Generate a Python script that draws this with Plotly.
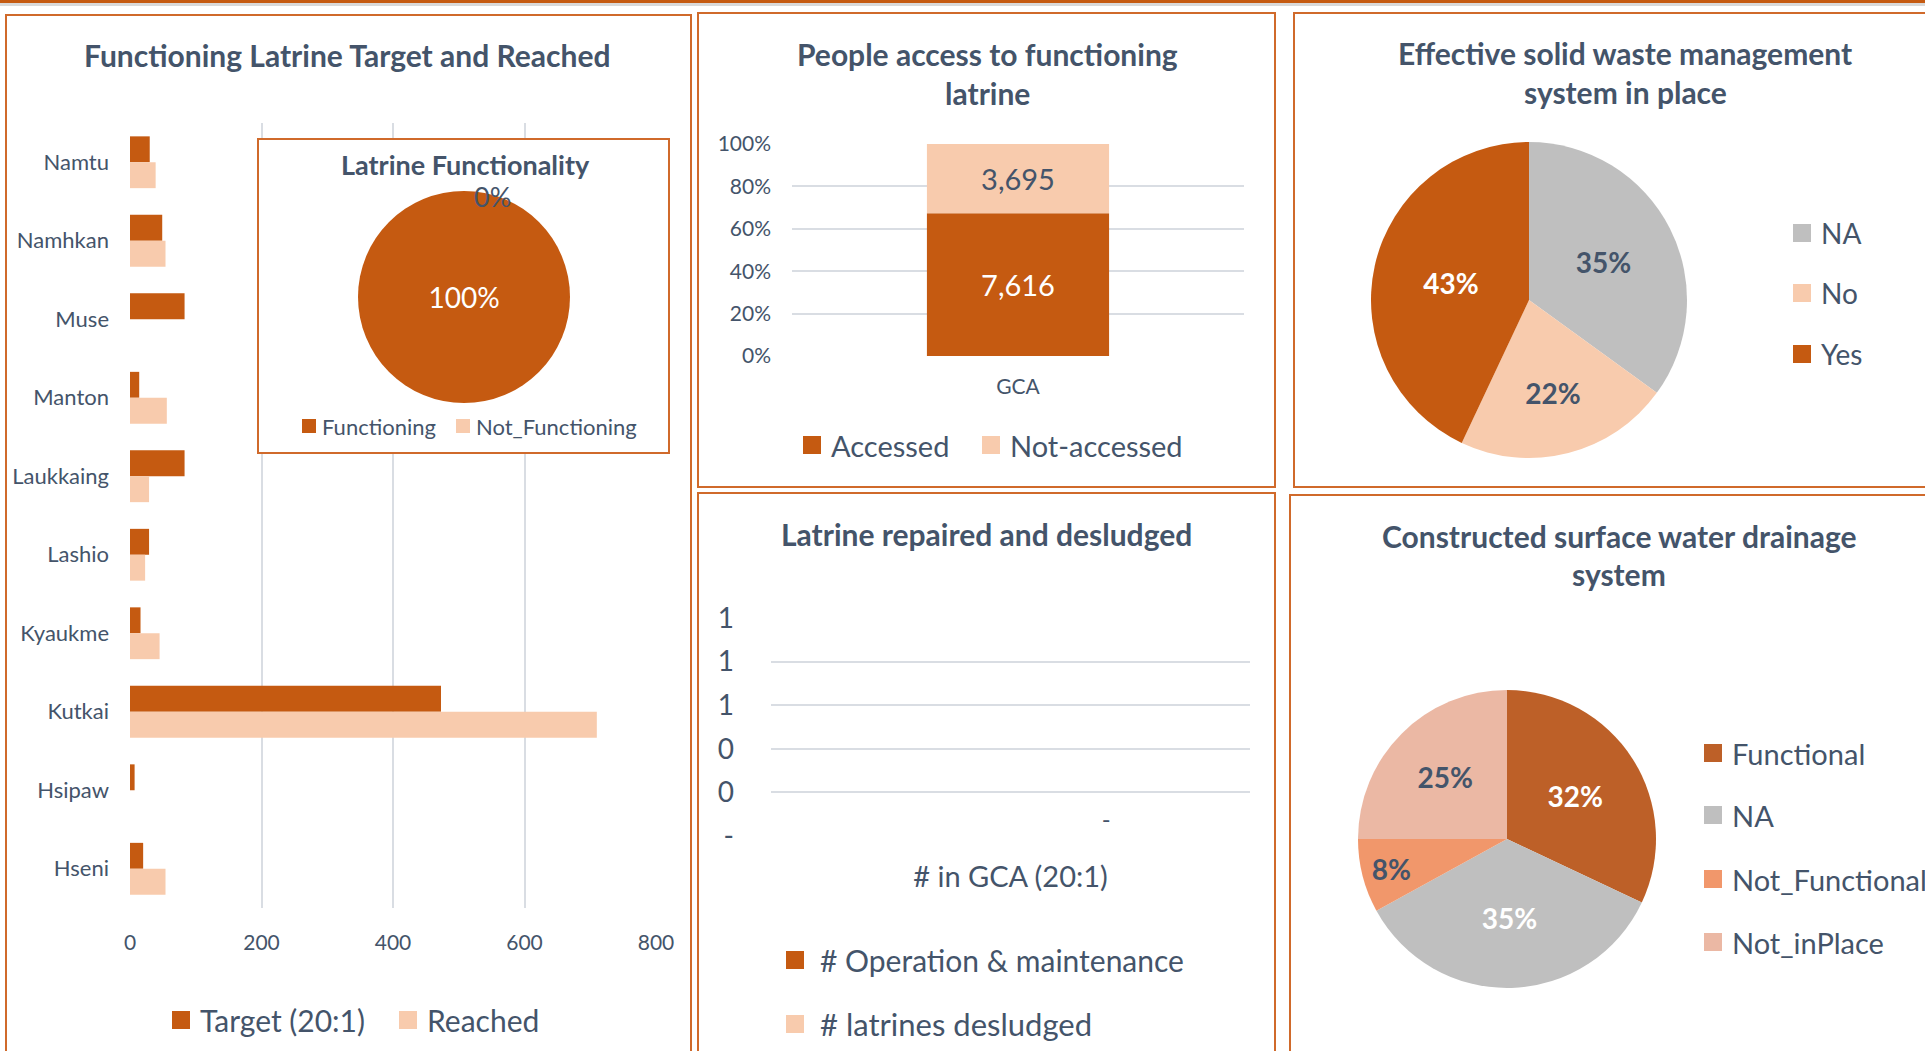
import plotly.graph_objects as go

W, H = 1925, 1051
TEXT = '#44546A'
ORANGE = '#C55A11'
PEACH = '#F8CBAD'
GREY = '#BFBFBF'
BORDER = '#D06A2B'
GRID = '#D9DDE3'
FONT = 'Lato'

# ---------------- data ----------------
districts = ["Namtu", "Namhkan", "Muse", "Manton", "Laukkaing", "Lashio",
             "Kyaukme", "Kutkai", "Hsipaw", "Hseni"]
target = [30, 49, 83, 14, 83, 29, 16, 473, 7, 20]
reached = [39, 54, 0, 56, 29, 23, 45, 710, 0, 54]
bar_series = ["Target (20:1)", "Reached"]
bar_xticks = [0, 200, 400, 600, 800]

func_labels = ["Functioning", "Not_Functioning"]
func_values = [100, 0]

access_cat = ["GCA"]
access_labels = ["Accessed", "Not-accessed"]
access_values = [7616, 3695]
access_ticks = [0, 20, 40, 60, 80, 100]

repair_cat = ["# in GCA (20:1)"]
repair_labels = ["# Operation & maintenance", "# latrines desludged"]
repair_values = [0, 0]
repair_tickvals = [0, 0.2, 0.4, 0.6, 0.8, 1.0]
repair_ticktext = ["-", "0", "0", "1", "1", "1"]

waste_labels = ["NA", "No", "Yes"]
waste_values = [35, 22, 43]

drain_labels = ["Functional", "NA", "Not_Functional", "Not_inPlace"]
drain_values = [32, 35, 8, 25]

titles = {
    "bars": ["Functioning Latrine Target and Reached"],
    "inset": ["Latrine Functionality"],
    "access": ["People access to functioning", "latrine"],
    "repair": ["Latrine repaired and desludged"],
    "waste": ["Effective solid waste management", "system in place"],
    "drain": ["Constructed surface water drainage", "system"],
}


def X(p):
    return p / W


def Y(p):
    return 1 - p / H


fig = go.Figure()
shapes = []
annots = []

# ---------------- panel 1 : horizontal bars ----------------
P1_L, P1_R, P1_T, P1_B = 130, 656, 123, 908
fig.add_trace(go.Bar(y=districts, x=target, orientation='h', name=bar_series[0],
                     marker=dict(color=ORANGE, line=dict(width=0)),
                     xaxis='x', yaxis='y', showlegend=False))
fig.add_trace(go.Bar(y=districts, x=reached, orientation='h', name=bar_series[1],
                     marker=dict(color=PEACH, line=dict(width=0)),
                     xaxis='x', yaxis='y', showlegend=False))

# ---------------- panel 2 : 100% stacked column ----------------
total = sum(access_values)
pct = [100 * v / total for v in access_values]
bases = [0, pct[0]]
acc_colors = [ORANGE, PEACH]
acc_txt = ['white', TEXT]
for i in range(2):
    fig.add_trace(go.Bar(x=access_cat, y=[pct[i]], base=[bases[i]], name=access_labels[i],
                         width=0.403, offset=-0.2015, offsetgroup='acc',
                         marker=dict(color=acc_colors[i], line=dict(width=0)),
                         text=[f"{access_values[i]:,}"], textposition='inside',
                         insidetextanchor='middle',
                         textfont=dict(size=29, color=acc_txt[i], family=FONT),
                         xaxis='x2', yaxis='y2', showlegend=False))

# ---------------- panel 3 : repaired / desludged ----------------
rep_colors = [ORANGE, PEACH]
rep_offsets = [-0.4, 0.0]
for i in range(2):
    txt = ["-" if v == 0 else f"{v:,}" for v in [repair_values[i]]] if i == 1 else None
    fig.add_trace(go.Bar(x=repair_cat, y=[repair_values[i]], name=repair_labels[i],
                         width=0.4, offset=rep_offsets[i], offsetgroup=f"r{i}",
                         marker=dict(color=rep_colors[i], line=dict(width=0)),
                         text=txt, textposition='outside', cliponaxis=False,
                         textfont=dict(size=24, color=TEXT, family=FONT),
                         xaxis='x3', yaxis='y3', showlegend=False))

# ---------------- pies ----------------
def dom(cx, cy, r):
    return dict(x=[X(cx - r), X(cx + r)], y=[Y(cy + r), Y(cy - r)])


fig.add_trace(go.Pie(labels=func_labels, values=func_values, domain=dom(464, 297, 106),
                     marker=dict(colors=[ORANGE, PEACH], line=dict(width=0)),
                     sort=False, direction='clockwise',
                     texttemplate=['%{percent:.0%}' if v > 0 else '' for v in func_values],
                     textposition='inside', insidetextorientation='horizontal',
                     textfont=dict(size=28, color=['white', TEXT], family=FONT),
                     showlegend=False))
zero_pct = round(100 * func_values[1] / sum(func_values))
annots.append(dict(x=X(492), y=Y(196), xref='paper', yref='paper', text=f"{zero_pct}%",
                   xanchor='center', yanchor='middle',
                   showarrow=False, font=dict(size=27, color=TEXT, family=FONT)))

fig.add_trace(go.Pie(labels=waste_labels, values=waste_values, domain=dom(1529, 300, 158),
                     marker=dict(colors=[GREY, PEACH, ORANGE], line=dict(width=0)),
                     sort=False, direction='clockwise',
                     texttemplate='<b>%{percent:.0%}</b>', textposition='inside',
                     insidetextorientation='horizontal',
                     textfont=dict(size=28, color=[TEXT, TEXT, 'white'], family=FONT),
                     showlegend=False))

drain_colors = ['#BD6028', GREY, '#F1976B', '#EBB8A4']
fig.add_trace(go.Pie(labels=drain_labels, values=drain_values, domain=dom(1507, 839, 149),
                     marker=dict(colors=drain_colors, line=dict(width=0)),
                     sort=False, direction='clockwise',
                     texttemplate='<b>%{percent:.0%}</b>', textposition='inside',
                     insidetextorientation='horizontal',
                     textfont=dict(size=28, color=['white', 'white', TEXT, TEXT], family=FONT),
                     showlegend=False))

# ---------------- frames ----------------
def rect(x0, y0, x1, y1, line=BORDER, fill=None, width=2, layer='above'):
    d = dict(type='rect', xref='paper', yref='paper', x0=X(x0), x1=X(x1), y0=Y(y1), y1=Y(y0),
             line=dict(color=line, width=width), layer=layer)
    if fill:
        d['fillcolor'] = fill
    shapes.append(d)


# top band
rect(0, 0, W, 3, line=ORANGE, fill=ORANGE, width=0)
rect(0, 3, W, 6, line='#D9D9D9', fill='#D9D9D9', width=0)
# panel frames
rect(6, 15, 691, 1070)
rect(698, 13, 1275, 487)
rect(698, 493, 1275, 1070)
rect(1294, 13, 1940, 487)
rect(1290, 495, 1940, 1070)

# inset background covering gridlines (between gridlines and bars)
IN_L, IN_T, IN_R, IN_B = 258, 139, 669, 453
catpx = (P1_B - P1_T) / len(districts)
shapes.append(dict(type='rect', xref='x', yref='y', layer='between',
                   x0=(IN_L - P1_L) / (P1_R - P1_L) * bar_xticks[-1],
                   x1=(IN_R - P1_L) / (P1_R - P1_L) * bar_xticks[-1],
                   y0=-0.5 + (IN_T - P1_T) / catpx, y1=-0.5 + (IN_B - P1_T) / catpx,
                   fillcolor='white', line=dict(width=0)))
rect(IN_L, IN_T, IN_R, IN_B)

# ---------------- titles ----------------
def title(lines, cx, ys, size=30):
    for t, yy in zip(lines, ys):
        annots.append(dict(x=X(cx), y=Y(yy), xref='paper', yref='paper', text=f"<b>{t}</b>",
                           showarrow=False, xanchor='center', yanchor='middle',
                           font=dict(size=size, color=TEXT, family=FONT)))


title(titles["bars"], 347, [55])
title(titles["inset"], 465, [165], size=27)
title(titles["access"], 987, [54, 93])
title(titles["repair"], 986, [534])
title(titles["waste"], 1625, [53, 92])
title(titles["drain"], 1619, [536, 574])

# ---------------- manual legends ----------------
def leg(xsq, yc, color, label, size, sq=18, gap=10):
    shapes.append(dict(type='rect', xref='paper', yref='paper', x0=X(xsq), x1=X(xsq + sq),
                       y0=Y(yc + sq / 2), y1=Y(yc - sq / 2), fillcolor=color,
                       line=dict(width=0), layer='above'))
    annots.append(dict(x=X(xsq + sq + gap), y=Y(yc), xref='paper', yref='paper', text=label,
                       showarrow=False, xanchor='left', yanchor='middle',
                       font=dict(size=size, color=TEXT, family=FONT)))


leg(172, 1020, ORANGE, bar_series[0], 30, gap=8)
leg(399, 1020, PEACH, bar_series[1], 30, gap=8)

leg(302, 426, ORANGE, func_labels[0], 22, sq=14, gap=4)
leg(456, 426, PEACH, func_labels[1], 22, sq=14, gap=4)

leg(803, 445, ORANGE, access_labels[0], 29, gap=8)
leg(982, 445, PEACH, access_labels[1], 29, gap=8)

leg(786, 960, ORANGE, repair_labels[0], 30, gap=14)
leg(786, 1024, PEACH, repair_labels[1], 31, gap=14)

for lab, col, yc in zip(waste_labels, [GREY, PEACH, ORANGE], [233, 293, 354]):
    leg(1793, yc, col, lab, 28, gap=8)

for lab, col, yc in zip(drain_labels, drain_colors, [753, 815, 879, 942]):
    leg(1704, yc, col, lab, 29, gap=8)

# ---------------- axes ----------------
axfont = dict(color=TEXT, family=FONT)
fig.update_layout(
    template='none',
    width=W, height=H,
    margin=dict(l=0, r=0, t=0, b=0, pad=0, autoexpand=False),
    paper_bgcolor='white', plot_bgcolor='white',
    barmode='group', bargap=0.34, bargroupgap=0,
    font=dict(family=FONT, color=TEXT),
    showlegend=False,
    shapes=shapes, annotations=annots,
    xaxis=dict(domain=[X(P1_L), X(P1_R)], range=[0, bar_xticks[-1]], tickvals=bar_xticks,
               showgrid=True, gridcolor=GRID, gridwidth=1.5, zeroline=False, showline=False,
               ticks='', tickfont=dict(size=21, **axfont), ticklabelstandoff=20,
               anchor='y', fixedrange=True, automargin=False),
    yaxis=dict(domain=[Y(P1_B), Y(P1_T)], type='category', range=[len(districts) - 0.5, -0.5],
               showgrid=False, zeroline=False, showline=False, ticks='',
               tickfont=dict(size=22, **axfont), ticklabelstandoff=20, anchor='x',
               fixedrange=True, automargin=False),
    xaxis2=dict(domain=[X(792), X(1244)], type='category', showgrid=False, showline=False,
                zeroline=False, ticks='', tickfont=dict(size=21, **axfont), ticklabelstandoff=16,
                anchor='y2', fixedrange=True, automargin=False),
    yaxis2=dict(domain=[Y(356), Y(144)], range=[0, 100], tickvals=access_ticks,
                ticktext=[f"{v}%" for v in access_ticks],
                showgrid=True, gridcolor=GRID, gridwidth=1.5, zeroline=False, showline=False,
                ticks='', tickfont=dict(size=21, **axfont), ticklabelstandoff=20,
                anchor='x2', fixedrange=True, automargin=False),
    xaxis3=dict(domain=[X(771), X(1250)], type='category', showgrid=False, showline=False,
                zeroline=False, ticks='', tickfont=dict(size=29, **axfont), ticklabelstandoff=21,
                anchor='y3', fixedrange=True, automargin=False),
    yaxis3=dict(domain=[Y(836), Y(618)], range=[0, 1], tickvals=repair_tickvals,
                ticktext=repair_ticktext, showgrid=True, gridcolor=GRID, gridwidth=1.5,
                zeroline=False, showline=False, ticks='', tickfont=dict(size=28, **axfont),
                ticklabelstandoff=36, anchor='x3', fixedrange=True, automargin=False),
)

fig.write_html("out.html", config={'displayModeBar': False},
               post_script="document.body.style.margin='0';document.body.style.overflow='hidden';")
